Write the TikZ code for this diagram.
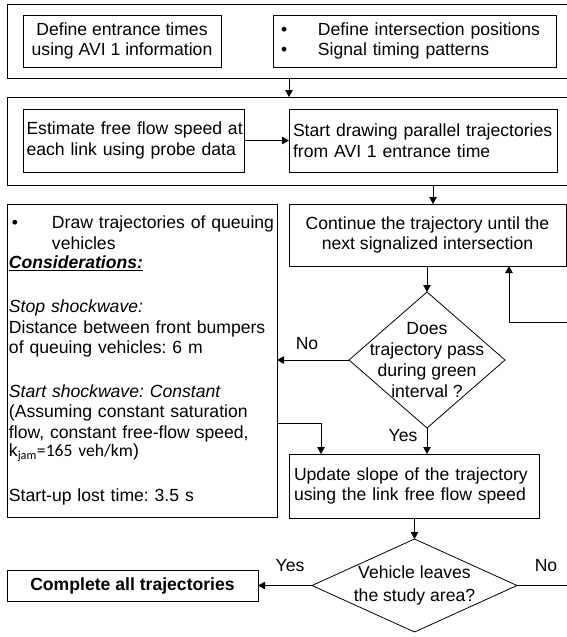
\documentclass[tikz,border=0pt]{standalone}
\usepackage{fontspec}
\setmainfont{Liberation Sans}
\newfontfamily\carlitofont{Carlito}
\usetikzlibrary{arrows.meta,shapes.geometric,calc}
\frenchspacing
\begin{document}
\begin{tikzpicture}[x=1pt,y=-1pt,
  every node/.style={font=\fontsize{17.6}{20.5}\selectfont\frenchspacing, inner sep=0pt, outer sep=0pt},
  box/.style={draw, line width=0.8pt},
  dia/.style={draw, diamond, line width=0.8pt},
  conn/.style={line width=0.8pt, -{Triangle[length=7pt,width=7.5pt]}},
  lbl/.style={align=center}
]
\useasboundingbox (0,0) rectangle (567,637);
\fill[white] (0,0) rectangle (567,637);
\clip (0,0) rectangle (567,637);

% top group
\node[box, minimum width=573pt, minimum height=74pt] (O1) at (293.5,41) {};
\node[box, align=center, minimum width=198pt, minimum height=52pt] (A) at (122,41)
  {Define entrance times\\using AVI 1 information};
\node[box, align=left, text width=267pt, inner xsep=8pt, minimum height=52pt] (B) at (414.5,41)
  {\mbox{\makebox[37pt][l]{•}Define intersection positions}\\\mbox{\makebox[37pt][l]{•}Signal timing patterns}};

% second group
\node[box, minimum width=573pt, minimum height=88pt] (O2) at (293.5,141) {};
\node[box, align=left, text width=214pt, inner xsep=3.5pt, minimum height=63pt] (C) at (133.5,140.5)
  {\mbox{Estimate free flow speed at}\\\mbox{each link using probe data}};
\node[box, align=left, text width=260pt, inner xsep=4pt, minimum height=63pt] (D) at (423,140.5)
  {\mbox{Start drawing parallel trajectories}\\\mbox{from AVI 1 entrance time}};

% continue box
\node[box, align=center, minimum width=277pt, minimum height=62pt] (E) at (427.5,235)
  {Continue the trajectory until the\\next signalized intersection};

% left consideration box
\node[box, align=left, text width=266pt, inner xsep=2pt, minimum height=313pt] (F) at (142,360.5)
  {\mbox{\makebox[43pt][l]{\hspace{3pt}•}Draw trajectories of queuing}\\
   \mbox{\hspace*{43pt}vehicles}\\[-1.5pt]
   \mbox{\underline{\textbf{\textit{Considerations:}}}}\\[24pt]
   \mbox{\textit{Stop shockwave:}}\\
   \mbox{Distance between front bumpers}\\
   \mbox{of queuing vehicles: 6 m}\\[23pt]
   \mbox{\textit{Start shockwave: Constant}}\\
   \mbox{(Assuming constant saturation}\\
   \mbox{flow, constant free-flow speed,}\\[-2pt]
   \mbox{k{\carlitofont\textsubscript{jam}=165 veh/km})}\\[24pt]
   \mbox{Start-up lost time: 3.5 s}};

% decision 1
\node[dia, minimum width=156pt, minimum height=136pt] (D1) at (427,360) {};
\node[lbl, font=\fontsize{17.6}{21}\selectfont] (D1t) at (D1.center)
  {Does\\trajectory pass\\during green\\interval ?};

% update box
\node[box, align=left, text width=240pt, inner xsep=5pt, minimum height=64pt] (G) at (414,486)
  {\mbox{Update slope of the trajectory}\\\mbox{using the link free flow speed}};

% decision 2
\node[dia, minimum width=205pt, minimum height=93pt] (D2) at (414.5,585.5) {};
\node[lbl, font=\fontsize{17.6}{23}\selectfont] (D2t) at (D2.center)
  {Vehicle leaves\\the study area?};

% complete box
\node[box, align=center, minimum width=251pt, minimum height=31pt] (H) at (132.5,585.5)
  {\textbf{Complete all trajectories}};

% labels
\node (noA) at (307,344) {No};
\node (yesA) at (403,436) {Yes};
\node (yesB) at (290,566) {Yes};
\node (noB) at (546,566) {No};

% connectors
\coordinate (a1) at (289,0);
\draw[conn] (O1.south -| a1) -- (O2.north -| a1);
\draw[conn] (C.east) -- (D.west);
\coordinate (a2) at (433,0);
\draw[conn] (O2.south -| a2) -- (E.north -| a2);
\draw[conn] (E.south -| D1.north) -- (D1.north);
\draw[conn] (D1.west) -- (D1.west -| F.east);
\draw[conn] (D1.south) -- (D1.south |- G.north);
\coordinate (fg) at (321,423);
\draw[conn] (F.east |- fg) -- (fg) -- (fg |- G.north);
\draw[conn] (G.south -| D2.north) -- (D2.north);
\draw[conn] (D2.west) -- (D2.west -| H.east);
\coordinate (lr) at (575,585.5);
\coordinate (lu) at (575,322);
\coordinate (ll) at (509,322);
\draw[conn] (D2.east) -- (lr) -- (lu) -- (ll) -- (ll |- E.south);
\end{tikzpicture}
\end{document}
